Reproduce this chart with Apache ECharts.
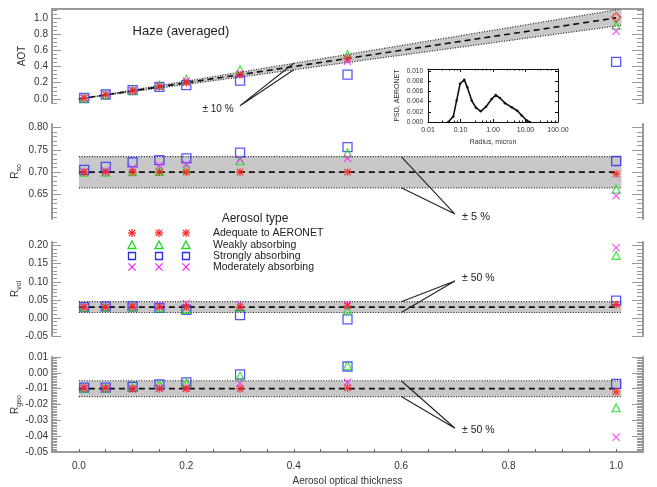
<!DOCTYPE html>
<html><head><meta charset="utf-8">
<script src="https://cdn.jsdelivr.net/npm/echarts@6/dist/echarts.min.js"></script>
<style>html,body{margin:0;padding:0;background:#fff}#c{width:657px;height:487px}</style>
</head><body><div id="c"></div>
<script>
// ---------------- DATA ----------------
const xValues = [0.01, 0.05, 0.10, 0.15, 0.20, 0.30, 0.50, 1.00];

const aotAdequate = [0.010, 0.050, 0.100, 0.150, 0.200, 0.300, 0.500, 1.007];
const aotWeak     = [0.012, 0.055, 0.110, 0.170, 0.240, 0.360, 0.547, 0.910];
const aotStrong   = [0.012, 0.055, 0.110, 0.150, 0.170, 0.226, 0.300, 0.457];
const aotModerate = [0.012, 0.055, 0.110, 0.160, 0.220, 0.310, 0.464, 0.835];

const rsoAdequate = [0.700, 0.700, 0.700, 0.700, 0.700, 0.700, 0.700, 0.696];
const rsoWeak     = [0.700, 0.700, 0.701, 0.702, 0.707, 0.726, 0.743, 0.662];
const rsoStrong   = [0.705, 0.712, 0.722, 0.727, 0.731, 0.744, 0.756, 0.725];
const rsoModerate = [0.701, 0.703, 0.709, 0.715, 0.718, 0.729, 0.731, 0.647];

const rvolAdequate = [0.030, 0.030, 0.031, 0.030, 0.030, 0.030, 0.033, 0.037];
const rvolWeak     = [0.030, 0.030, 0.031, 0.028, 0.024, 0.030, 0.022, 0.173];
const rvolStrong   = [0.030, 0.031, 0.032, 0.028, 0.022, 0.008, -0.004, 0.048];
const rvolModerate = [0.030, 0.030, 0.032, 0.033, 0.040, 0.037, 0.037, 0.194];

const rgeoAdequate = [-0.0095, -0.0095, -0.0100, -0.0100, -0.0100, -0.0100, -0.0095, -0.0120];
const rgeoWeak     = [-0.0095, -0.0095, -0.0088, -0.0075, -0.0062, -0.0020, 0.0045, -0.0220];
const rgeoStrong   = [-0.0093, -0.0093, -0.0088, -0.0073, -0.0060, -0.0010, 0.0040, -0.0070];
const rgeoModerate = [-0.0098, -0.0098, -0.0103, -0.0098, -0.0098, -0.0066, -0.0060, -0.0407];

// reference lines and tolerance bands
const refX = [0.0, 1.0];
const aotRef = [0.0, 1.0];
const rsoRef = [0.70, 0.70];
const rvolRef = [0.03, 0.03];
const rgeoRef = [-0.01, -0.01];
const bandX = [0.0, 1.01];
const aotBandLow = [0.0, 0.909],   aotBandHigh = [0.0, 1.111];
const rsoBandLow = [0.665, 0.665], rsoBandHigh = [0.735, 0.735];
const rvolBandLow = [0.015, 0.015], rvolBandHigh = [0.045, 0.045];
const rgeoBandLow = [-0.015, -0.015], rgeoBandHigh = [-0.005, -0.005];

// annotation pointers: [band-top point, label vertex, band-bottom point]
const aotPointer  = [[0.4, 0.44], [0.30, -0.083], [0.4, 0.36]];
const rsoPointer  = [[0.6, 0.735], [0.70, 0.606], [0.6, 0.665]];
const rvolPointer = [[0.6, 0.045], [0.70, 0.102], [0.6, 0.015]];
const rgeoPointer = [[0.6, -0.005], [0.70, -0.035], [0.6, -0.015]];

// inset: AERONET particle size distribution
const psdRadius = [0.042, 0.060, 0.076, 0.097, 0.131, 0.162, 0.221, 0.300, 0.419, 0.609, 0.912, 1.21, 1.64, 2.34, 3.76, 5.59, 7.64, 10.9, 13.7];
const psdValue  = [0, 0.0011, 0.0042, 0.0075, 0.0083, 0.0068, 0.0042, 0.0028, 0.0021, 0.0030, 0.0045, 0.0053, 0.0047, 0.0037, 0.0029, 0.0022, 0.0013, 0.0003, 0];

const xTickLabels = [0.0, 0.2, 0.4, 0.6, 0.8, 1.0];
const legendNames = ['Adequate to AERONET', 'Weakly absorbing', 'Strongly absorbing', 'Moderately absorbing'];

// ---------------- STYLE ----------------
const FONT = 'Liberation Sans, Arial, Helvetica, sans-serif';
const AX = '#999';
const RED = '#ff1a1a', GREEN = '#1edc1e', BLUE = '#2a2aff', MAG = '#ff1aff';
const ASTER_POLYS = [
  [[0, 8.5], [20, 8.5], [20, 11.5], [0, 11.5]],
  [[8.5, 0], [11.5, 0], [11.5, 20], [8.5, 20]],
  [[3.06, 0.94], [19.06, 16.94], [16.94, 19.06], [0.94, 3.06]],
  [[16.94, 0.94], [19.06, 3.06], [3.06, 19.06], [0.94, 16.94]]
];
const CROSS_POLYS = [
  [[2, 0], [20, 18], [18, 20], [0, 2]],
  [[18, 0], [20, 2], [2, 20], [0, 18]]
];
const toPath = polys => polys.map(pl => 'M' + pl.map(pt => pt.join(' ')).join(' L') + ' Z').join(' ');
const ASTER = toPath(ASTER_POLYS);
const CROSS = toPath(CROSS_POLYS);

function seq(a, b, s) { const o = []; const n = Math.round((b - a) / s); for (let k = 0; k <= n; k++) o.push(+(a + k * s).toFixed(6)); return o; }

const panels = [
  { top: 9, height: 94, min: -0.05, max: 1.11, major: seq(0, 1.0, 0.2), minor: seq(-0.05, 1.10, 0.05), dec: 1, name: 'AOT', nameGap: 25,
    ys: [aotStrong, aotWeak, aotModerate, aotAdequate], ref: aotRef, low: aotBandLow, high: aotBandHigh, ptr: aotPointer },
  { top: 124, height: 95, min: 0.595, max: 0.808, major: [0.65, 0.70, 0.75, 0.80], minor: seq(0.60, 0.80, 0.01), dec: 2, name: '{a|R}{b|so}', nameGap: 29,
    ys: [rsoStrong, rsoWeak, rsoModerate, rsoAdequate], ref: rsoRef, low: rsoBandLow, high: rsoBandHigh, ptr: rsoPointer },
  { top: 242, height: 94, min: -0.05, max: 0.21, major: seq(-0.05, 0.20, 0.05), minor: seq(-0.05, 0.21, 0.01), dec: 2, name: '{a|R}{b|vol}', nameGap: 29,
    ys: [rvolStrong, rvolWeak, rvolModerate, rvolAdequate], ref: rvolRef, low: rvolBandLow, high: rvolBandHigh, ptr: rvolPointer },
  { top: 357, height: 95, min: -0.05, max: 0.01, major: seq(-0.05, 0.01, 0.01), minor: seq(-0.05, 0.01, 0.001), dec: 2, name: '{a|R}{b|geo}', nameGap: 29,
    ys: [rgeoStrong, rgeoWeak, rgeoModerate, rgeoAdequate], ref: rgeoRef, low: rgeoBandLow, high: rgeoBandHigh, ptr: rgeoPointer }
];

const gridBase = { containLabel: false, outerBoundsMode: 'none' };
const grid = panels.map(p => Object.assign({ left: 52, right: 14, top: p.top, height: p.height }, gridBase));
grid.push(Object.assign({ left: 428, top: 69, width: 130, height: 53 }, gridBase));

const xAxis = panels.map((p, i) => {
  const base = { type: 'value', gridIndex: i, min: -0.05, max: 1.05, splitLine: { show: false } };
  if (i < 3) return Object.assign(base, { show: false });
  return Object.assign(base, {
    position: 'bottom', nameMoveOverlap: false,
    axisLine: { show: true, onZero: false, lineStyle: { color: AX, width: 2 } },
    axisTick: { show: true, inside: true, length: 3, customValues: seq(0, 1.0, 0.05), lineStyle: { color: '#666' } },
    axisLabel: { customValues: xTickLabels, formatter: v => v.toFixed(1), fontFamily: FONT, fontSize: 10, color: '#333', margin: 9 },
    name: 'Aerosol optical thickness', nameLocation: 'middle', nameGap: 24,
    nameTextStyle: { fontFamily: FONT, fontSize: 10, color: '#333' }
  });
});
xAxis.push({
  type: 'log', gridIndex: 4, min: 0.01, max: 100, logBase: 10, splitLine: { show: false }, nameMoveOverlap: false,
  axisLine: { onZero: false, lineStyle: { color: '#111', width: 1 } },
  axisTick: { inside: true, length: 3, lineStyle: { color: '#111' } },
  minorTick: { show: true, splitNumber: 5, length: 1.5, lineStyle: { color: '#111' } },
  axisLabel: { formatter: v => v.toFixed(2), fontFamily: FONT, fontSize: 7, color: '#333', margin: 5 },
  name: 'Radius, micron', nameLocation: 'middle', nameGap: 17,
  nameTextStyle: { fontFamily: FONT, fontSize: 7, color: '#333' }
});
xAxis.push({
  type: 'log', gridIndex: 4, min: 0.01, max: 100, logBase: 10, position: 'top', splitLine: { show: false },
  axisLine: { onZero: false, lineStyle: { color: '#111', width: 1 } },
  axisTick: { inside: true, length: 3, lineStyle: { color: '#111' } },
  minorTick: { show: true, splitNumber: 5, length: 1.5, lineStyle: { color: '#111' } },
  axisLabel: { show: false }
});
xAxis.push({ type: 'value', gridIndex: 0, min: -0.05, max: 1.05, position: 'top', splitLine: { show: false },
  axisLine: { show: true, onZero: false, lineStyle: { color: AX, width: 2 } }, axisTick: { show: false }, axisLabel: { show: false } });

const yAxis = [];
panels.forEach((p, i) => {
  const common = { type: 'value', gridIndex: i, min: p.min, max: p.max, splitLine: { show: false } };
  yAxis.push(Object.assign({}, common, {
    position: 'left', nameMoveOverlap: false,
    axisLine: { show: true, onZero: false, lineStyle: { color: AX, width: 2 } },
    axisTick: { show: true, inside: true, length: 9, customValues: p.major, lineStyle: { color: AX } },
    axisLabel: { customValues: p.major, formatter: v => v.toFixed(p.dec), fontFamily: FONT, fontSize: 10, color: '#333', margin: 4 },
    name: p.name, nameLocation: 'middle', nameGap: p.nameGap, nameRotate: 90,
    nameTextStyle: { fontFamily: FONT, fontSize: 10, color: '#333',
      rich: { a: { fontFamily: FONT, fontSize: 10, color: '#333', verticalAlign: 'top', lineHeight: 13 },
              b: { fontFamily: FONT, fontSize: 7, color: '#333', verticalAlign: 'top', lineHeight: 8, padding: [6, 0, 0, 0] } } }
  }));
  yAxis.push(Object.assign({}, common, {
    position: 'left', axisLine: { show: false, onZero: false },
    axisTick: { show: true, inside: true, length: 5, customValues: p.minor, lineStyle: { color: AX } },
    axisLabel: { show: false }
  }));
  yAxis.push(Object.assign({}, common, {
    position: 'right',
    axisLine: { show: true, onZero: false, lineStyle: { color: AX, width: 2 } },
    axisTick: { show: true, inside: true, length: 11, customValues: p.major, lineStyle: { color: AX } },
    axisLabel: { show: false }
  }));
  yAxis.push(Object.assign({}, common, {
    position: 'right', axisLine: { show: false, onZero: false },
    axisTick: { show: true, inside: true, length: 6, customValues: p.minor, lineStyle: { color: AX } },
    axisLabel: { show: false }
  }));
});
yAxis.push({
  type: 'value', gridIndex: 4, min: 0, max: 0.0104, splitLine: { show: false }, position: 'left', nameMoveOverlap: false,
  axisLine: { show: true, onZero: false, lineStyle: { color: '#111', width: 1 } },
  axisTick: { inside: true, length: 3, customValues: seq(0, 0.010, 0.002), lineStyle: { color: '#111' } },
  axisLabel: { customValues: seq(0, 0.010, 0.002), formatter: v => v.toFixed(3), fontFamily: FONT, fontSize: 6.5, color: '#333', margin: 5 },
  name: 'PSD, AERONET', nameLocation: 'middle', nameGap: 27, nameRotate: 90,
  nameTextStyle: { fontFamily: FONT, fontSize: 7, color: '#333' }
});
yAxis.push({
  type: 'value', gridIndex: 4, min: 0, max: 0.0104, splitLine: { show: false }, position: 'right',
  axisLine: { show: true, onZero: false, lineStyle: { color: '#111', width: 1 } },
  axisTick: { inside: true, length: 3, customValues: seq(0, 0.010, 0.002), lineStyle: { color: '#111' } },
  axisLabel: { show: false }
});

const kinds = [
  { symbol: 'rect', size: 9, itemStyle: { color: 'rgba(0,0,0,0)', borderColor: BLUE, borderWidth: 1.3 } },
  { symbol: 'triangle', size: 8, itemStyle: { color: 'rgba(0,0,0,0)', borderColor: GREEN, borderWidth: 1.3 } },
  { symbol: 'path://' + CROSS, size: 8, itemStyle: { color: MAG } },
  { symbol: 'path://' + ASTER, size: 8, itemStyle: { color: RED } }
];

const dotted = { color: '#222', width: 1.2, type: [1, 1.6] };
const series = [];
panels.forEach((p, i) => {
  const yi = i * 4;
  series.push({ type: 'custom', xAxisIndex: i, yAxisIndex: yi, silent: true, z: 1,
    data: bandX.map((x, k) => [x, p.low[k], p.high[k]]), encode: { x: 0, y: [1, 2] },
    renderItem: (params, api) => {
      if (params.dataIndex !== 0) return;
      const pts = [];
      bandX.forEach((x, k) => pts.push(api.coord([x, p.high[k]])));
      for (let k = bandX.length - 1; k >= 0; k--) pts.push(api.coord([bandX[k], p.low[k]]));
      return { type: 'polygon', shape: { points: pts }, style: { fill: '#c8c8c8' } };
    } });
  series.push({ type: 'line', xAxisIndex: i, yAxisIndex: yi, symbol: 'none', silent: true, z: 2,
    data: bandX.map((x, k) => [x, p.low[k]]), lineStyle: dotted });
  series.push({ type: 'line', xAxisIndex: i, yAxisIndex: yi, symbol: 'none', silent: true, z: 2,
    data: bandX.map((x, k) => [x, p.high[k]]), lineStyle: dotted });
  series.push({ type: 'line', xAxisIndex: i, yAxisIndex: yi, symbol: 'none', silent: true, z: 2,
    data: refX.map((x, k) => [x, p.ref[k]]), lineStyle: { color: '#111', width: 1.6, type: [6, 4] } });
  series.push({ type: 'line', xAxisIndex: i, yAxisIndex: yi, symbol: 'none', silent: true, clip: false, z: 2,
    data: p.ptr, lineStyle: { color: '#222', width: 1.1 } });
  p.ys.forEach((ys, s) => {
    const k = kinds[s];
    series.push({ type: 'scatter', xAxisIndex: i, yAxisIndex: yi, symbol: k.symbol, symbolSize: k.size, itemStyle: k.itemStyle, clip: false, z: 3,
      data: xValues.map((x, j) => {
        if (i === 0 && s === 3 && j === xValues.length - 1)
          return { value: [x, ys[j]], symbol: 'diamond', symbolSize: 9, itemStyle: { color: 'rgba(0,0,0,0)', borderColor: RED, borderWidth: 1.3 } };
        return [x, ys[j]];
      }) });
  });
});
series.push({ type: 'line', xAxisIndex: 4, yAxisIndex: 16, data: psdRadius.map((r, k) => [r, psdValue[k]]),
  symbol: 'circle', symbolSize: 2.5, itemStyle: { color: '#111' }, lineStyle: { color: '#111', width: 1.6 } });

const legRows = [233, 245, 256, 267];
const legCols = [132, 159, 186];
const graphic = [
  { type: 'text', x: 181, y: 31, style: { text: 'Haze (averaged)', font: '13px ' + FONT, fill: '#222', align: 'center', verticalAlign: 'middle' } },
  { type: 'text', x: 255, y: 219, style: { text: 'Aerosol type', font: '12px ' + FONT, fill: '#222', align: 'center', verticalAlign: 'middle' } },
  { type: 'text', x: 218, y: 109, style: { text: '± 10 %', font: '10px ' + FONT, fill: '#222', align: 'center', verticalAlign: 'middle' } },
  { type: 'text', x: 462, y: 217, style: { text: '± 5 %', font: '11px ' + FONT, fill: '#222', align: 'left', verticalAlign: 'middle' } },
  { type: 'text', x: 462, y: 278, style: { text: '± 50 %', font: '10.5px ' + FONT, fill: '#222', align: 'left', verticalAlign: 'middle' } },
  { type: 'text', x: 462, y: 430, style: { text: '± 50 %', font: '10.5px ' + FONT, fill: '#222', align: 'left', verticalAlign: 'middle' } }
];
const placePolys = (polys, cx, cy, color) => polys.forEach(pl => graphic.push({
  type: 'polygon', shape: { points: pl.map(pt => [cx - 4 + pt[0] * 0.4, cy - 4 + pt[1] * 0.4]) }, style: { fill: color }
}));
legendNames.forEach((nm, r) => {
  const cy = legRows[r];
  graphic.push({ type: 'text', x: 213, y: cy, style: { text: nm, font: '10.5px ' + FONT, fill: '#222', align: 'left', verticalAlign: 'middle' } });
  legCols.forEach(cx => {
    if (r === 0) placePolys(ASTER_POLYS, cx, cy, RED);
    if (r === 1) graphic.push({ type: 'polygon', shape: { points: [[cx, cy - 4], [cx + 4, cy + 3.5], [cx - 4, cy + 3.5]] }, style: { fill: 'none', stroke: GREEN, lineWidth: 1.3 } });
    if (r === 2) graphic.push({ type: 'rect', shape: { x: cx - 3.5, y: cy - 3.5, width: 7, height: 7 }, style: { fill: 'none', stroke: BLUE, lineWidth: 1.3 } });
    if (r === 3) placePolys(CROSS_POLYS, cx, cy, MAG);
  });
});

const chart = echarts.init(document.getElementById('c'), null, { renderer: 'canvas' });
chart.setOption({ animation: false, backgroundColor: '#fff', grid, xAxis, yAxis, series, graphic });
</script></body></html>
